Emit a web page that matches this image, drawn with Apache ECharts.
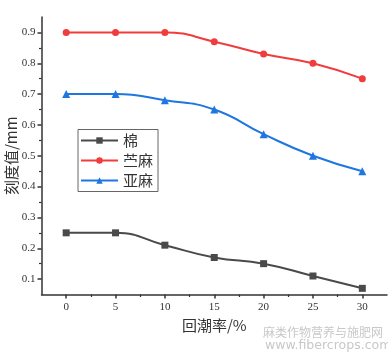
<!DOCTYPE html>
<html><head><meta charset="utf-8">
<script src="https://cdn.jsdelivr.net/npm/echarts@6/dist/echarts.min.js"></script>
<style>html,body{margin:0;padding:0;background:#fff}#c{width:388px;height:356px}</style>
</head><body><div id="c"></div>
<script>
const xValues = [0, 5, 10, 15, 20, 25, 30];
const cotton = [0.25, 0.25, 0.21, 0.17, 0.15, 0.11, 0.07];
const ramie = [0.90, 0.90, 0.90, 0.87, 0.83, 0.80, 0.75];
const flax = [0.70, 0.70, 0.68, 0.65, 0.57, 0.50, 0.45];
const seriesNames = ['棉', '苎麻', '亚麻'];
const xTicks = [0, 5, 10, 15, 20, 25, 30];
const xMinor = [2.5, 7.5, 12.5, 17.5, 22.5, 27.5];
const yTicks = [0.1, 0.2, 0.3, 0.4, 0.5, 0.6, 0.7, 0.8, 0.9];
const yMinor = [0.15, 0.25, 0.35, 0.45, 0.55, 0.65, 0.75, 0.85];
const xTitle = '回潮率/%';
const yTitle = '刻度值/mm';

const pair = arr => xValues.map((x, i) => [x, arr[i]]);
const serif = '"Liberation Serif", "DejaVu Serif", serif';
const cjk = '"Noto Sans CJK SC", sans-serif';
const axisColor = '#333';

const chart = echarts.init(document.getElementById('c'), null, {renderer: 'canvas'});
const grid = {left: 41.5, right: 1, top: 17, bottom: 61.5, containLabel: false, outerBoundsMode: 'none'};
const xBase = {type: 'value', min: -2.5, max: 32.5, splitLine: {show: false}};
const yBase = {type: 'value', min: 0.05, max: 0.95, splitLine: {show: false}};
chart.setOption({
  animation: false,
  backgroundColor: '#fff',
  grid: grid,
  xAxis: [
    Object.assign({}, xBase, {
      position: 'bottom',
      name: xTitle, nameLocation: 'middle', nameGap: 23, nameMoveOverlap: false,
      nameTextStyle: {fontFamily: cjk, fontSize: 15, color: '#333'},
      axisLine: {show: true, onZero: false, lineStyle: {color: axisColor, width: 1.5}},
      axisTick: {show: true, customValues: xTicks, length: 4, lineStyle: {color: axisColor, width: 1.5}},
      axisLabel: {show: true, customValues: xTicks, fontFamily: serif, fontSize: 11, color: '#333', margin: 7}
    }),
    Object.assign({}, xBase, {
      position: 'bottom',
      axisLine: {show: false, onZero: false},
      axisTick: {show: true, customValues: xMinor, length: 2.5, lineStyle: {color: axisColor, width: 1.2}},
      axisLabel: {show: false}
    })
  ],
  yAxis: [
    Object.assign({}, yBase, {
      position: 'left',
      name: yTitle, nameLocation: 'middle', nameGap: 23, nameMoveOverlap: false,
      nameTextStyle: {fontFamily: cjk, fontSize: 15, color: '#333'},
      axisLine: {show: true, onZero: false, lineStyle: {color: axisColor, width: 1.5}},
      axisTick: {show: true, customValues: yTicks, length: 4, lineStyle: {color: axisColor, width: 1.5}},
      axisLabel: {show: true, customValues: yTicks, fontFamily: serif, fontSize: 11, color: '#333', margin: 6,
        formatter: v => v.toFixed(1)}
    }),
    Object.assign({}, yBase, {
      position: 'left',
      axisLine: {show: false, onZero: false},
      axisTick: {show: true, customValues: yMinor, length: 2.5, lineStyle: {color: axisColor, width: 1.2}},
      axisLabel: {show: false}
    })
  ],
  legend: {
    orient: 'vertical', left: 78, top: 129.5,
    padding: [3, 5, 3, 2], itemGap: 4, itemWidth: 37, itemHeight: 8,
    borderColor: '#666', borderWidth: 1,
    textStyle: {fontFamily: cjk, fontSize: 15, lineHeight: 16, color: '#333'},
    data: seriesNames
  },
  series: [
    {name: seriesNames[0], type: 'line', data: pair(cotton), smooth: 0.5,
      symbol: 'rect', symbolSize: 7, itemStyle: {color: '#4a4a4a'}, lineStyle: {width: 2, color: '#4a4a4a'}},
    {name: seriesNames[1], type: 'line', data: pair(ramie), smooth: 0.5,
      symbol: 'circle', symbolSize: 7, itemStyle: {color: '#f03c3c'}, lineStyle: {width: 2, color: '#f03c3c'}},
    {name: seriesNames[2], type: 'line', data: pair(flax), smooth: 0.5,
      symbol: 'triangle', symbolSize: 8, itemStyle: {color: '#1e76e0'}, lineStyle: {width: 2, color: '#1e76e0'}}
  ],
  graphic: [
    {type: 'text', left: 263, top: 326, style: {text: '麻类作物营养与施肥网', fontFamily: cjk, fontSize: 12, fill: '#c8c8c8'}},
    {type: 'text', left: 265, top: 339, style: {text: 'www.fibercrops.com', fontFamily: '"DejaVu Sans", sans-serif', fontSize: 12.5, fill: '#c8c8c8'}}
  ]
});
</script></body></html>
